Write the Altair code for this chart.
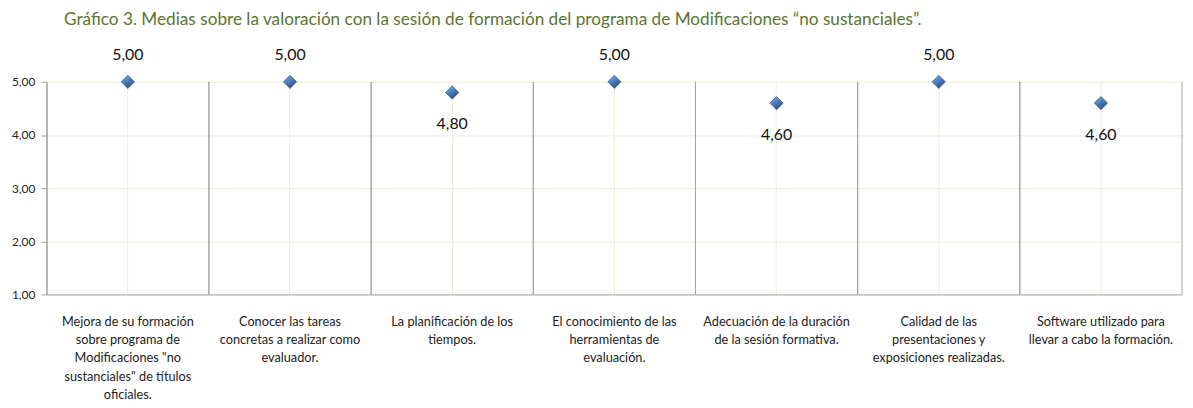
import altair as alt
import pandas as pd

# ---- data ----
categories = [
    ["Mejora de su formación", "sobre programa de", "Modificaciones \"no", "sustanciales\" de títulos", "oficiales."],
    ["Conocer las tareas", "concretas a realizar como", "evaluador."],
    ["La planificación de los", "tiempos."],
    ["El conocimiento de las", "herramientas de", "evaluación."],
    ["Adecuación de la duración", "de la sesión formativa."],
    ["Calidad de las", "presentaciones y", "exposiciones realizadas."],
    ["Software utilizado para", "llevar a cabo la formación."],
]
values = [5.00, 5.00, 4.80, 5.00, 4.60, 5.00, 4.60]
y_ticks = [1, 2, 3, 4, 5]

title_text = "Gráfico 3. Medias sobre la valoración con la sesión de formación del programa de Modificaciones “no sustanciales”."

cat_names = ["|".join(c) for c in categories]
df = pd.DataFrame({"cat": cat_names, "v": values})

FONT = "Lato"
DARK = "#A3A3A3"
LIGHT = "#EFECDB"

x_enc = alt.X(
    "cat:N",
    sort=cat_names,
    scale=alt.Scale(paddingInner=0, paddingOuter=0),
    axis=alt.Axis(
        title=None,
        labelExpr="split(datum.label, '|')",
        labelAngle=0,
        labelAlign="center",
        labelFont=FONT,
        labelFontSize=12.8,
        labelColor="#222222",
        labelLineHeight=18.5,
        labelPadding=21,
        labelBaseline="top",
        ticks=False,
        grid=True,
        gridColor=LIGHT,
        gridWidth=1,
        bandPosition=0.5,
        domainColor=DARK,
        domainWidth=1,
        labelLimit=200,
    ),
)
y_scale = alt.Scale(domain=[1, 5], nice=False, zero=False)
y_enc = alt.Y(
    "v:Q",
    scale=y_scale,
    axis=alt.Axis(
        title=None,
        values=y_ticks,
        labelExpr="replace(format(datum.value, '.2f'), '.', ',')",
        labelFont=FONT,
        labelFontSize=12,
        labelColor="#222222",
        labelPadding=6,
        tickColor=DARK,
        tickSize=6,
        grid=True,
        gridColor=LIGHT,
        domainColor=DARK,
    ),
)

base = alt.Chart(df)

sep_left = base.mark_rule(color=DARK, strokeWidth=1).encode(
    x=alt.X("cat:N", sort=cat_names, bandPosition=0),
    y=alt.datum(1, scale=y_scale),
    y2=alt.datum(5),
)
sep_right = base.mark_rule(color=DARK, strokeWidth=1).encode(
    x=alt.X("cat:N", sort=cat_names, bandPosition=1),
    y=alt.datum(1, scale=y_scale),
    y2=alt.datum(5),
)

diamond_fill = alt.Gradient(
    gradient="linear",
    x1=0.2, y1=0, x2=0.8, y2=1,
    stops=[
        alt.GradientStop(offset=0, color="#7AA8DE"),
        alt.GradientStop(offset=0.45, color="#4A7DBA"),
        alt.GradientStop(offset=1, color="#24466F"),
    ],
)
points = base.mark_point(
    shape="diamond", filled=True, size=180, fill=diamond_fill, stroke="#2A4F7C", strokeWidth=0.6, opacity=1
).encode(x=x_enc, y=y_enc)

lab = base.transform_calculate(lbl="replace(format(datum.v, '.2f'), '.', ',')")
labels_above = lab.transform_filter("datum.v >= 5").mark_text(
    font=FONT, fontSize=16, color="#111111", dy=-27
).encode(x=alt.X("cat:N", sort=cat_names), y=alt.Y("v:Q", scale=y_scale), text="lbl:N")
labels_below = lab.transform_filter("datum.v < 5").mark_text(
    font=FONT, fontSize=16, color="#111111", dy=32
).encode(x=alt.X("cat:N", sort=cat_names), y=alt.Y("v:Q", scale=y_scale), text="lbl:N")

chart = (
    alt.layer(sep_left, sep_right, points, labels_above, labels_below)
    .properties(
        width=1143,
        height=214,
        title=alt.TitleParams(
            text=title_text,
            anchor="start",
            dx=53,
            offset=19,
            font=FONT,
            fontSize=17.3,
            fontWeight="normal",
            color="#5B7533",
        ),
        autosize=alt.AutoSizeParams(type="none"),
        padding={"left": 39, "top": 73, "right": 3, "bottom": 108},
    )
    .configure_view(stroke=None)
)

chart.save("out.html", embed_options={"renderer": "svg", "actions": False})
